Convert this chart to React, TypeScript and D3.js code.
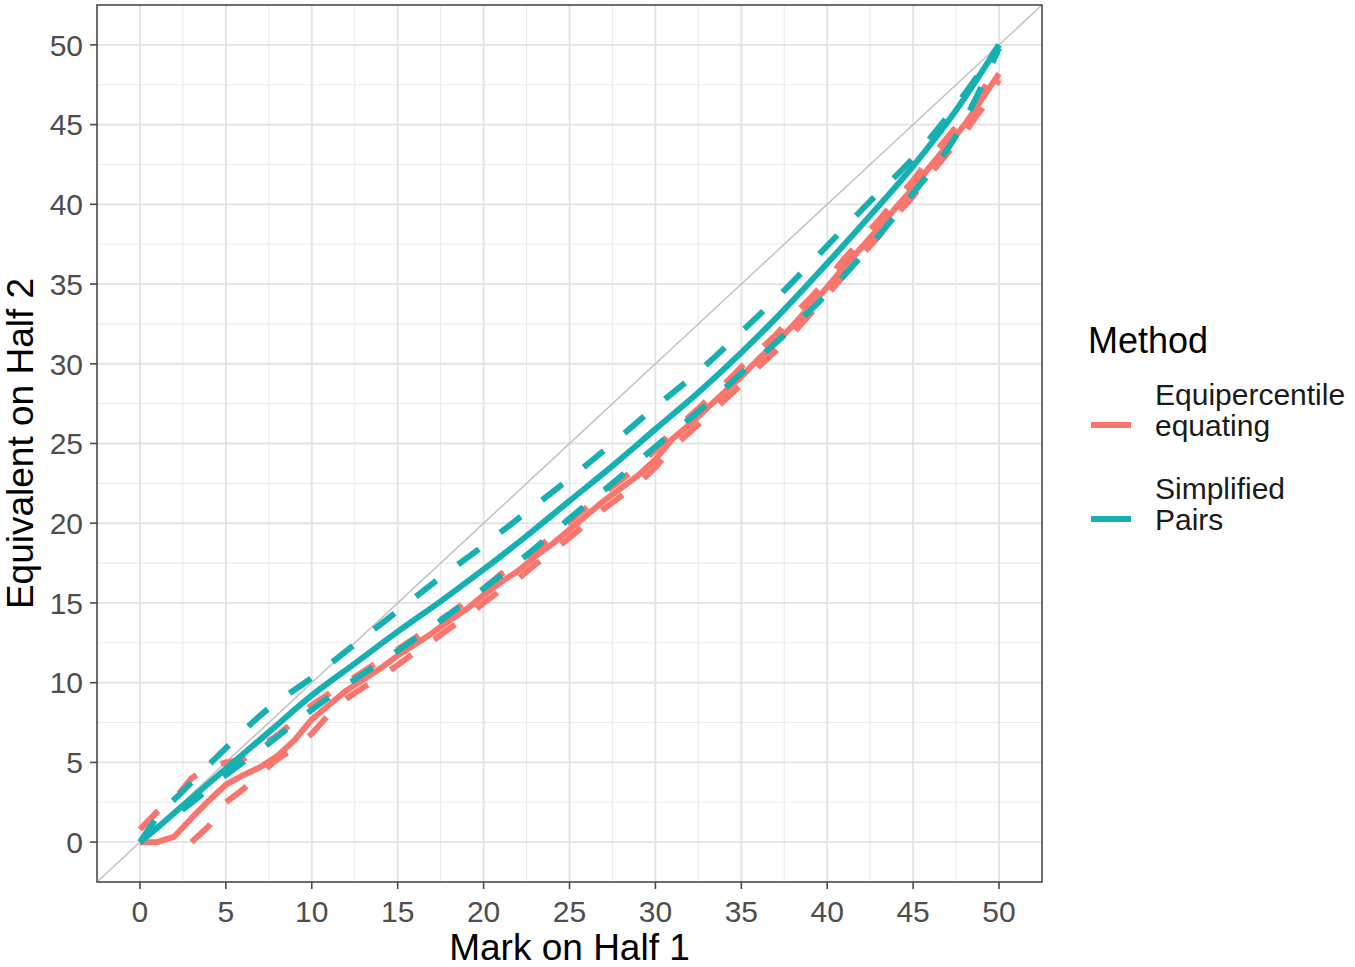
import * as d3 from 'd3';

// Simplified Pairs (teal): estimate and bounds, sampled every 2.5 marks
const spX = [0, 1, 2.5, 5, 7.5, 10, 12.5, 15, 17.5, 20, 22.5, 25, 27.5, 30, 32.5, 35, 37.5, 40, 42.5, 45, 47.5, 50];
const spMid = [0, 0.9, 2.3, 4.6, 6.9, 9.2, 11.2, 13.2, 15.1, 17.1, 19.2, 21.4, 23.6, 25.9, 28.2, 30.7, 33.4, 36.3, 39.3, 42.4, 45.9, 50];
const spUpper = [0, 1.55, 3.2, 5.9, 8.4, 10.3, 12.4, 14.5, 16.6, 18.6, 20.7, 22.8, 25.0, 27.3, 29.5, 32.0, 34.6, 37.4, 40.2, 42.9, 46.2, 50];
const spLower = [0, 0.9, 2.05, 4.2, 6.2, 8.3, 10.2, 12.0, 13.9, 15.9, 18.0, 20.3, 22.5, 24.8, 27.0, 29.4, 31.8, 34.4, 37.4, 40.7, 44.3, 49.8];

// Equipercentile equating (red): estimate and bounds at each mark
const eqX = d3.range(0, 51);
const eqMid = [0, 0, 0.35, 1.5, 2.6, 3.6, 4.2, 4.7, 5.4, 6.4, 7.7, 8.6, 9.5, 10.2, 10.9, 11.7, 12.4, 13.1, 13.9, 14.6,
  15.5, 16.3, 17.0, 17.9, 18.7, 19.6, 20.5, 21.4, 22.2, 23.0, 24.0, 25.3, 26.2, 27.2, 28.2, 29.2, 30.3, 31.3, 32.4, 33.6,
  34.8, 36.1, 37.3, 38.5, 39.8, 41.0, 42.4, 43.7, 45.0, 46.6, 48.2];
const eqUpper = [0.8, 1.9, 2.7, 4.0, 4.7, 5.0, 5.2, 6.0, 6.7, 7.6, 8.6, 9.3, 10.0, 10.7, 11.4, 12.1, 12.8, 13.6, 14.3, 15.1,
  15.9, 16.8, 17.5, 18.3, 19.2, 20.1, 21.0, 21.9, 22.7, 23.6, 24.6, 25.8, 26.7, 27.7, 28.7, 29.8, 30.8, 31.8, 33.0, 34.1,
  35.3, 36.6, 37.8, 39.0, 40.3, 41.5, 42.9, 44.2, 45.5, 47.1, 48.6];
const eqLowerX = d3.range(3, 51);
const eqLower = [0, 1.0, 2.5, 3.3, 4.3, 5.2, 5.9, 6.8, 8.0, 9.0, 9.7, 10.4, 11.1, 11.9, 12.6, 13.4, 14.1,
  15.0, 15.8, 16.5, 17.4, 18.2, 19.1, 20.0, 20.9, 21.7, 22.5, 23.5, 24.8, 25.7, 26.7, 27.7, 28.7, 29.8, 30.8, 31.9, 33.1,
  34.3, 35.6, 36.8, 38.0, 39.3, 40.5, 41.9, 43.2, 44.5, 46.0, 47.8];

const ticks = [0, 5, 10, 15, 20, 25, 30, 35, 40, 45, 50];
const minorTicks = [2.5, 7.5, 12.5, 17.5, 22.5, 27.5, 32.5, 37.5, 42.5, 47.5];

const methods = ['Equipercentile\nequating', 'Simplified\nPairs'];
const RED = '#F8766D';
const TEAL = '#15B0B2';
const FONT = '"Liberation Sans", Arial, sans-serif';

export default function App() {
  const left = 97, right = 1042, top = 5, bottom = 882;
  const x = d3.scaleLinear().domain([-2.5, 52.5]).range([left, right]);
  const y = d3.scaleLinear().domain([-2.5, 52.5]).range([bottom, top]);

  const smooth = d3.line<[number, number]>().x(d => x(d[0])).y(d => y(d[1])).curve(d3.curveMonotoneX);
  const jagged = d3.line<[number, number]>().x(d => x(d[0])).y(d => y(d[1]));
  const zip = (xs: number[], ys: number[]) => xs.map((v, i) => [v, ys[i]] as [number, number]);

  const lw = 6;
  const dash = '26,27';

  return (
    <svg width={1355} height={967} style={{ position: 'absolute', left: 0, top: 0, background: '#fff' }} fontFamily={FONT}>
      <defs>
        <clipPath id="panel">
          <rect x={left} y={top} width={right - left} height={bottom - top} />
        </clipPath>
      </defs>
      {/* grid */}
      {minorTicks.map(t => (
        <g key={'m' + t}>
          <line x1={x(t)} x2={x(t)} y1={top} y2={bottom} stroke="#ececec" strokeWidth={1.1} />
          <line x1={left} x2={right} y1={y(t)} y2={y(t)} stroke="#ececec" strokeWidth={1.1} />
        </g>
      ))}
      {ticks.map(t => (
        <g key={'M' + t}>
          <line x1={x(t)} x2={x(t)} y1={top} y2={bottom} stroke="#e3e3e3" strokeWidth={1.8} />
          <line x1={left} x2={right} y1={y(t)} y2={y(t)} stroke="#e3e3e3" strokeWidth={1.8} />
        </g>
      ))}
      <g clipPath="url(#panel)">
        <line x1={x(-2.5)} y1={y(-2.5)} x2={x(52.5)} y2={y(52.5)} stroke="#c4c4c4" strokeWidth={1.6} />
        <path d={jagged(zip(eqX, eqMid)) || ''} fill="none" stroke={RED} strokeWidth={lw} strokeLinejoin="round" />
        <path d={jagged(zip(eqX, eqUpper)) || ''} fill="none" stroke={RED} strokeWidth={lw} strokeDasharray={dash} />
        <path d={jagged(zip(eqLowerX, eqLower)) || ''} fill="none" stroke={RED} strokeWidth={lw} strokeDasharray={dash} />
        <path d={smooth(zip(spX, spMid)) || ''} fill="none" stroke={TEAL} strokeWidth={lw} />
        <path d={smooth(zip(spX, spUpper)) || ''} fill="none" stroke={TEAL} strokeWidth={lw} strokeDasharray={dash} />
        <path d={smooth(zip(spX, spLower)) || ''} fill="none" stroke={TEAL} strokeWidth={lw} strokeDasharray={dash} />
      </g>
      <rect x={left} y={top} width={right - left} height={bottom - top} fill="none" stroke="#4a4a4a" strokeWidth={1.6} />
      {/* axes */}
      {ticks.map(t => (
        <g key={'xt' + t}>
          <line x1={x(t)} x2={x(t)} y1={bottom} y2={bottom + 7} stroke="#4a4a4a" strokeWidth={1.6} />
          <text x={x(t)} y={bottom + 40} textAnchor="middle" fontSize={30} fill="#4d4d4d">{t}</text>
          <line x1={left - 7} x2={left} y1={y(t)} y2={y(t)} stroke="#4a4a4a" strokeWidth={1.6} />
          <text x={left - 14} y={y(t)} dy="0.36em" textAnchor="end" fontSize={30} fill="#4d4d4d">{t}</text>
        </g>
      ))}
      <text x={(left + right) / 2} y={960} textAnchor="middle" fontSize={37} fill="#000">Mark on Half 1</text>
      <text transform={`translate(33,${(top + bottom) / 2}) rotate(-90)`} textAnchor="middle" fontSize={37} fill="#000">Equivalent on Half 2</text>
      {/* legend */}
      <text x={1088} y={353} fontSize={36} fill="#000">Method</text>
      {methods.map((m, i) => {
        const cy = 425 + i * 94;
        const lines = m.split('\n');
        return (
          <g key={m}>
            <line x1={1091} x2={1131} y1={cy} y2={cy} stroke={i === 0 ? RED : TEAL} strokeWidth={lw} />
            {lines.map((s, j) => (
              <text key={s} x={1155} y={cy - 20 + j * 31} fontSize={30} fill="#1a1a1a">{s}</text>
            ))}
          </g>
        );
      })}
    </svg>
  );
}
